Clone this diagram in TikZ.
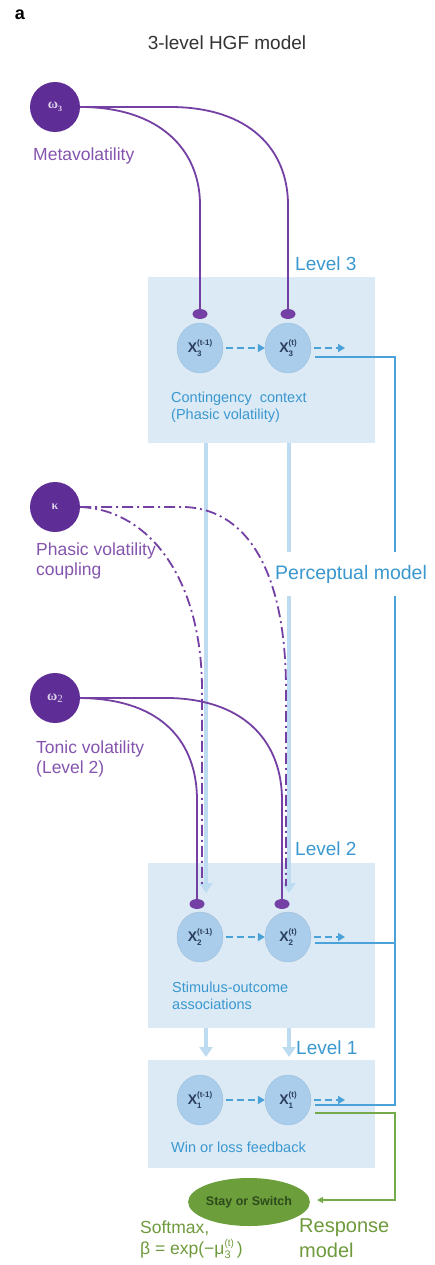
\documentclass[tikz,border=0pt]{standalone}
\usepackage{fontspec}
\setmainfont{Liberation Sans}
\newfontfamily\serifgreek{Liberation Serif}
\usetikzlibrary{arrows.meta,shapes.geometric}
\definecolor{pdark}{HTML}{5E2D96}
\definecolor{pline}{HTML}{7440A3}
\definecolor{ptext}{HTML}{8454AE}
\definecolor{boxfill}{HTML}{DCEAF6}
\definecolor{nodefill}{HTML}{A9CDEA}
\definecolor{btext}{HTML}{3A98CF}
\definecolor{bline}{HTML}{4AA2D8}
\definecolor{blight}{HTML}{BEDCF1}
\definecolor{gline}{HTML}{74AA4A}
\definecolor{gfill}{HTML}{6C9F3C}
\definecolor{gtext}{HTML}{6E9A3C}
\definecolor{gdark}{HTML}{2E4A1C}
\definecolor{xtext}{HTML}{2B3E5E}
\newcommand{\stk}[2]{\rlap{\raisebox{-0.5ex}{\fontsize{8}{8}\selectfont #1}}\raisebox{0.95ex}{\fontsize{8}{8}\selectfont #2}}
\newcommand{\stkb}[2]{\rlap{\raisebox{-0.45ex}{\fontsize{11}{11}\selectfont #1}}\raisebox{0.9ex}{\fontsize{10}{10}\selectfont #2}}
\tikzset{
  param/.style={circle, fill=pdark, minimum size=50pt, inner sep=0pt, text=white!80!pdark, font=\serifgreek\bfseries\fontsize{14}{14}\selectfont},
  state/.style={ellipse, fill=nodefill, draw=nodefill!90!black, line width=0.3pt, minimum width=46pt, minimum height=50pt, inner sep=0pt, text=xtext, font=\bfseries\fontsize{14}{14}\selectfont},
  levelbox/.style={rectangle, fill=boxfill, draw=none, minimum width=227pt, inner sep=0pt},
  bulb/.style={ellipse, fill=pline, minimum width=15pt, minimum height=10pt, inner sep=0pt},
  purp/.style={draw=pline, line width=1.8pt},
  purpdd/.style={draw=pline, line width=1.8pt, dash pattern=on 11pt off 4pt on 2pt off 4pt},
  down/.style={draw=blight, line width=4pt, -{Triangle[width=13pt,length=10pt]}},
  tstep/.style={draw=bline, line width=1.8pt, dash pattern=on 7pt off 4pt, -{Triangle[width=8pt,length=7pt]}},
  rline/.style={draw=bline, line width=1.4pt},
  gl/.style={draw=gline, line width=1.4pt},
  ptxt/.style={anchor=west, text=ptext, align=left, inner sep=0pt, font=\fontsize{17.5}{19.5}\selectfont},
  btxt/.style={anchor=west, text=btext, align=left, inner sep=0pt, font=\fontsize{14.5}{17}\selectfont},
  lvl/.style={anchor=west, text=btext, inner sep=0pt, font=\fontsize{19}{19}\selectfont},
  gtxt/.style={anchor=west, text=gtext, align=left, inner sep=0pt},
}
\begin{document}
\begin{tikzpicture}[x=1pt,y=-1pt]
\useasboundingbox (0,0) rectangle (435,1265);
% header
\node[font=\bfseries\fontsize{18}{18}\selectfont] (a) at (20,15) {a};
\node[font=\fontsize{19}{19}\selectfont, text=black!80] (title) at (227,43) {3-level HGF model};
% level boxes
\node[levelbox, minimum height=166pt] (L3) at (261.5,360) {};
\node[levelbox, minimum height=165pt] (L2) at (261.5,945.5) {};
\node[levelbox, minimum height=108pt] (L1) at (261.5,1114) {};
% descending thick arrows
\coordinate (d3a) at (206,443); \coordinate (d2a) at (206,893);
\coordinate (d3b) at (289,443); \coordinate (d2b) at (289,893);
\coordinate (d2c) at (206,1028); \coordinate (d1c) at (206,1057);
\coordinate (d2d) at (289,1028); \coordinate (d1d) at (289,1057);
\draw[down] (d3a) -- (d2a);
\draw[down] (d3b) -- (d2b);
\draw[down] (d2c) -- (d1c);
\draw[down] (d2d) -- (d1d);
% right collector line
\coordinate (r3) at (315,357); \coordinate (r3c) at (395,357);
\coordinate (r2) at (315,943); \coordinate (r2c) at (395,943);
\coordinate (r1) at (315,1105); \coordinate (r1c) at (395,1105);
\draw[rline] (r3) -- (r3c) -- (r1c) -- (r1);
\draw[rline] (r2) -- (r2c);
% perceptual model label
\node[anchor=west, fill=white, inner xsep=1pt, minimum height=44pt, text=btext, font=\fontsize{19.5}{19.5}\selectfont] (perc) at (274,574) {Perceptual model};
% level labels
\node[lvl] (lv3) at (295,264) {Level 3};
\node[lvl] (lv2) at (295,849) {Level 2};
\node[lvl] (lv1) at (296,1048) {Level 1};
% box texts
\node[btxt] (t3) at (171,407) {Contingency\ \ context\\(Phasic volatility)};
\node[btxt] (t2) at (172,996) {Stimulus-outcome\\associations};
\node[btxt] (t1) at (171,1147) {Win or loss feedback};
% parameter nodes
\node[param] (w3) at (55,107) {ω\raisebox{-0.4ex}{\fontsize{8}{8}\selectfont 3}};
\node[param] (k) at (55,507) {\fontsize{12}{12}\selectfont κ};
\node[param] (w2) at (55,698) {ω\raisebox{-0.4ex}{\fontsize{11}{11}\selectfont\mdseries 2}};
\node[ptxt] (mv) at (33,156) {Metavolatility};
\node[ptxt] (pc) at (36,561) {Phasic volatility\\coupling};
\node[ptxt] (tv) at (36,759) {Tonic volatility\\(Level 2)};
% state nodes
\node[state] (x3a) at (200,348) {X\stk{3}{(t-1)}};
\node[state] (x3b) at (288,348) {X\stk{3}{(t)}\hspace{2pt}};
\node[state] (x2a) at (200,937) {X\stk{2}{(t-1)}};
\node[state] (x2b) at (288,937) {X\stk{2}{(t)}\hspace{2pt}};
\node[state] (x1a) at (200,1100) {X\stk{1}{(t-1)}};
\node[state] (x1b) at (288,1100) {X\stk{1}{(t)}\hspace{2pt}};
% bulbs
\node[bulb] (b3a) at (200,314) {};
\node[bulb] (b3b) at (288,314) {};
\node[bulb] (b2a) at (197,904) {};
\node[bulb] (b2b) at (282,904) {};
% purple curves
\draw[purp] (w3.east) .. controls (160,107) and (200,150) .. (200,205) -- (b3a.north);
\draw[purp] (w3.east) -- (170,107) .. controls (250,107) and (288,150) .. (288,205) -- (b3b.north);
\draw[purpdd] (k.east) .. controls (150,510) and (202,580) .. (202,690) -- (202,886);
\draw[purpdd] (k.east) -- (185,507) .. controls (252,510) and (286,580) .. (286,690) -- (286,886);
\draw[purp] (w2.east) .. controls (165,699) and (197,745) .. (197,800) -- (b2a.north);
\draw[purp] (w2.east) -- (170,698) .. controls (248,700) and (282,745) .. (282,800) -- (b2b.north);
% time-step dashed arrows
\coordinate (n3) at (345,348); \coordinate (n2) at (345,937); \coordinate (n1) at (345,1100);
\draw[tstep] (x3a.east) ++(3,0) -- (x3b.west);
\draw[tstep] (x3b.east) ++(3,0) -- (n3);
\draw[tstep] (x2a.east) ++(3,0) -- (x2b.west);
\draw[tstep] (x2b.east) ++(3,0) -- (n2);
\draw[tstep] (x1a.east) ++(3,0) -- (x1b.west);
\draw[tstep] (x1b.east) ++(3,0) -- (n1);
% response model
\node[ellipse, fill=gfill, minimum width=108pt, minimum height=48pt, inner sep=0pt, text=gdark, font=\bfseries\fontsize{12.5}{12.5}\selectfont] (stay) at (249,1202) {Stay or Switch};
\coordinate (g1) at (315,1113); \coordinate (g2) at (395,1113); \coordinate (g3) at (395,1200);
\draw[gl, -{Triangle[width=6pt,length=6pt]}] (g1) -- (g2) -- (g3) -- ([xshift=7pt]stay.east |- g3);
\node[gtxt, font=\fontsize{17.5}{20.5}\selectfont] (soft) at (140,1240) {Softmax,\\β = exp(−μ\stkb{3}{(t)}\hspace{3pt})};
\node[gtxt, font=\fontsize{20}{25}\selectfont] (resp) at (299,1238) {Response\\model};
\end{tikzpicture}
\end{document}
